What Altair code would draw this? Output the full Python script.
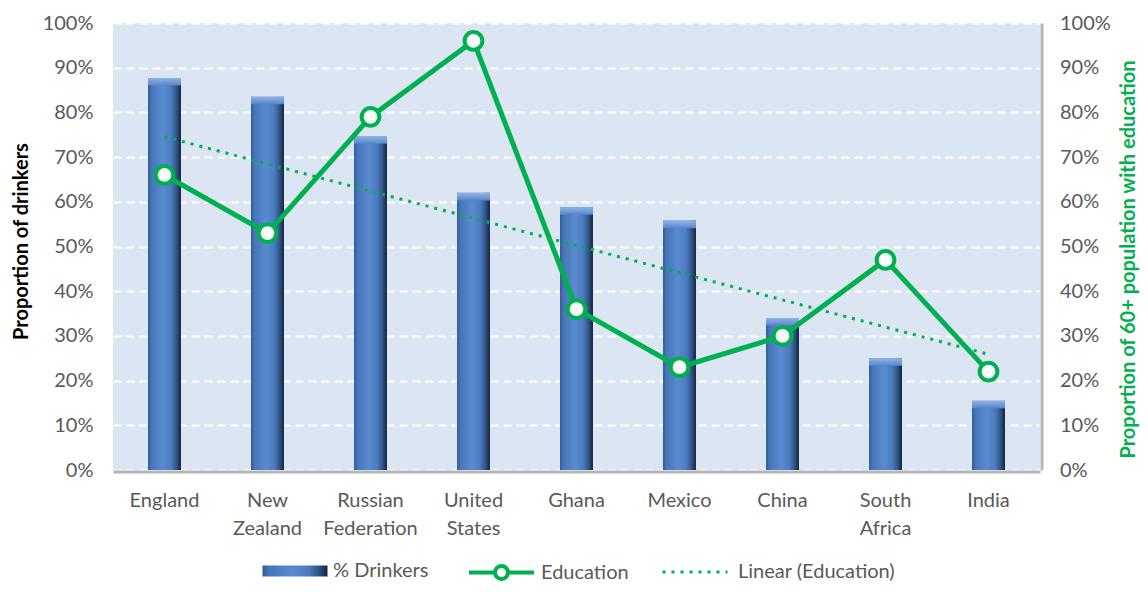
import altair as alt
import numpy as np
import pandas as pd

countries = ["England", "New Zealand", "Russian Federation", "United States",
             "Ghana", "Mexico", "China", "South Africa", "India"]
drinkers = [87.7, 83.5, 74.7, 62.0, 58.8, 55.8, 34.0, 25.0, 15.5]
education = [66, 53, 79, 96, 36, 23, 30, 47, 22]
tick_values = [0, 10, 20, 30, 40, 50, 60, 70, 80, 90, 100]

# Excel-style linear trendline of the Education series
idx = np.arange(1, len(countries) + 1)
slope, intercept = np.polyfit(idx, education, 1)
trend = (slope * idx + intercept).tolist()

df = pd.DataFrame({
    "country": countries,
    "drinkers": drinkers,
    "education": education,
    "trend": trend,
    "s_bar": "% Drinkers",
    "s_edu": "Education",
    "s_trend": "Linear (Education)",
})

GREEN = "#00b050"
LABEL = "#595959"
FONT = "Lato"

bar_grad = alt.LinearGradient(
    gradient="linear", x1=0, x2=1, y1=0, y2=0,
    stops=[
        alt.GradientStop(color="#2f5a94", offset=0),
        alt.GradientStop(color="#4676b8", offset=0.1),
        alt.GradientStop(color="#5a8bd0", offset=0.45),
        alt.GradientStop(color="#4c7cbf", offset=0.7),
        alt.GradientStop(color="#31568b", offset=0.86),
        alt.GradientStop(color="#15233a", offset=1),
    ],
)
cap_grad = alt.LinearGradient(
    gradient="linear", x1=0, x2=0, y1=0, y2=1,
    stops=[
        alt.GradientStop(color="#8fb4e6", offset=0),
        alt.GradientStop(color="#6f98d6", offset=0.6),
        alt.GradientStop(color="#5585c8", offset=1),
    ],
)

x_enc = alt.X(
    "country:N", sort=countries,
    scale=alt.Scale(paddingInner=0.68, paddingOuter=0.34),
    axis=alt.Axis(title=None, labelAngle=0, labelExpr="split(datum.label, ' ')",
                  labelFontSize=20, labelColor=LABEL, labelFont=FONT,
                  labelPadding=19, labelLineHeight=28, ticks=False,
                  domain=True, domainColor="#b5b5b5", domainWidth=3, offset=1.5,
                  grid=False, labelOverlap=False),
)

y_left = alt.Y(
    "drinkers:Q", scale=alt.Scale(domain=[0, 100], nice=False),
    axis=alt.Axis(title="Proportion of drinkers", values=tick_values,
                  labelExpr="datum.value + '%'", labelFontSize=20, labelColor=LABEL,
                  labelFont=FONT, labelPadding=20, ticks=False, domain=False,
                  grid=True, gridColor="white", gridDash=[8, 5], gridWidth=2,
                  titleFontSize=20, titleFont=FONT, titleFontWeight="bold",
                  titleColor="black", titleAngle=270, titleX=-92, titleY=218,
                  titleBaseline="middle", titleAlign="center"),
)

right_axis = alt.Axis(orient="right", title="Proportion of 60+ population with education",
                      values=tick_values, labelExpr="datum.value + '%'",
                      labelFontSize=20, labelColor=LABEL, labelFont=FONT,
                      labelPadding=18, ticks=False, domain=True,
                      domainColor="#b5b5b5", domainWidth=3, offset=1.5, grid=False,
                      titleFontSize=20, titleFont=FONT, titleFontWeight="bold",
                      titleColor=GREEN, titleAngle=270, titleX=87, titleY=236,
                      titleBaseline="middle", titleAlign="center")
y_scale_r = alt.Scale(domain=[0, 100], nice=False)

legend_common = dict(title=None, orient="none", padding=0, symbolSize=4225,
                     labelFontSize=20, labelFont=FONT, labelColor=LABEL)

bars = alt.Chart(df).mark_bar(fill=bar_grad).encode(
    x=x_enc,
    y=y_left,
    opacity=alt.Opacity(
        "s_bar:N",
        scale=alt.Scale(type="point", domain=["% Drinkers"], range=[1, 1]),
        legend=alt.Legend(legendX=149, legendY=515, labelOffset=5,
                          symbolType="M-1,-0.17H1V0.17H-1Z",
                          symbolFillColor="#4f81bd", symbolStrokeColor="#2c4c7c",
                          symbolStrokeWidth=1, symbolOpacity=1, **legend_common),
    ),
)

bar_caps = alt.Chart(df).transform_calculate(
    cap_bottom="datum.drinkers - 1.7"
).mark_bar(fill=cap_grad).encode(
    x=x_enc,
    y=alt.Y("drinkers:Q", scale=alt.Scale(domain=[0, 100], nice=False)),
    y2="cap_bottom:Q",
)

left = alt.layer(bars, bar_caps)

trend_line = alt.Chart(df).mark_line(color=GREEN, strokeWidth=3).encode(
    x=x_enc,
    y=alt.Y("trend:Q", scale=y_scale_r, axis=right_axis),
    strokeDash=alt.StrokeDash(
        "s_trend:N",
        scale=alt.Scale(domain=["Linear (Education)"], range=[[3, 6]]),
        legend=alt.Legend(legendX=548, legendY=515, labelOffset=9,
                          symbolType="stroke", symbolStrokeColor=GREEN,
                          symbolStrokeWidth=3, symbolDash=[3, 7], **legend_common),
    ),
)

edu_line = alt.Chart(df).mark_line(strokeWidth=5).encode(
    x=x_enc,
    y=alt.Y("education:Q", scale=y_scale_r, axis=right_axis),
    color=alt.Color(
        "s_edu:N",
        scale=alt.Scale(domain=["Education"], range=[GREEN]),
        legend=alt.Legend(legendX=354, legendY=515, labelOffset=5,
                          symbolType="M-1,0H-0.2M0.2,0H1M-0.2,0A0.2,0.2,0,1,1,0.2,0A0.2,0.2,0,1,1,-0.2,0",
                          symbolStrokeColor=GREEN, symbolFillColor="white",
                          symbolStrokeWidth=4, **legend_common),
    ),
)

edu_points = alt.Chart(df).mark_point(
    shape="circle", filled=True, fill="white", stroke=GREEN, strokeWidth=4,
    size=314, opacity=1,
).encode(
    x=x_enc,
    y=alt.Y("education:Q", scale=y_scale_r, axis=right_axis),
)

right = alt.layer(trend_line, edu_line, edu_points)

chart = alt.layer(left, right).resolve_scale(y="independent").properties(
    width=927, height=447,
    autosize=alt.AutoSizeParams(type="none"),
    padding={"left": 105, "top": 15, "right": 100, "bottom": 114},
    background="white",
).configure_view(
    fill="#dce6f2", stroke=None,
).configure_text(font=FONT)

chart.save("out.html", embed_options={"renderer": "svg", "actions": False})
